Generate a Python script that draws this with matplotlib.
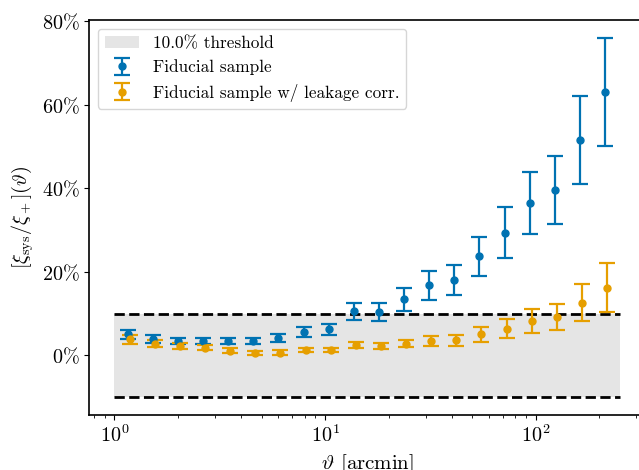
import numpy as np
import matplotlib
matplotlib.use('Agg')
import matplotlib.pyplot as plt
from matplotlib.ticker import FuncFormatter

plt.rcParams['font.family'] = ['cmr10', 'DejaVu Serif']
plt.rcParams['mathtext.fontset'] = 'cm'
plt.rcParams['axes.formatter.use_mathtext'] = True

# angular bins [arcmin]
theta = [1.157, 1.520, 1.999, 2.627, 3.453, 4.539, 5.994, 7.906, 10.39, 13.66,
         18.01, 23.67, 31.12, 40.92, 53.78, 71.01, 93.34, 122.7, 161.8, 212.7]
theta_corr = [1.186, 1.558, 2.049, 2.693, 3.539, 4.652, 6.144, 8.104, 10.65, 14.00,
              18.46, 24.26, 31.90, 41.94, 55.12, 72.79, 95.67, 125.8, 165.8, 218.0]

# xi_sys / xi_+ in percent
ratio = [5.0, 4.0, 3.4, 3.4, 3.4, 3.4, 4.2, 5.6, 6.2, 10.5,
         10.4, 13.4, 16.8, 18.0, 23.7, 29.4, 36.5, 39.6, 51.6, 63.1]
ratio_err = [1.1, 0.95, 0.65, 0.65, 0.7, 0.7, 0.95, 1.2, 1.3, 2.1,
             2.1, 2.75, 3.5, 3.65, 4.6, 6.0, 7.4, 8.05, 10.5, 12.9]
ratio_corr = [3.8, 2.8, 2.2, 1.85, 1.05, 0.55, 0.65, 1.2, 1.3, 2.4,
              2.2, 2.8, 3.45, 3.6, 5.0, 6.4, 8.2, 9.2, 12.6, 16.2]
ratio_corr_err = [1.1, 0.8, 0.65, 0.65, 0.6, 0.55, 0.5, 0.5, 0.5, 0.7,
                  0.7, 0.9, 1.2, 1.3, 1.7, 2.2, 2.8, 3.15, 4.45, 5.95]

threshold = 10.0
theta_min, theta_max = 1.0, 250.0

fig = plt.figure(figsize=(6.39, 4.70), dpi=100)
ax = fig.add_axes([89 / 639, 55 / 470, 556 / 639, 395 / 470])

ax.fill_between([theta_min, theta_max], -threshold, threshold, color='gray', alpha=0.2,
                lw=0, label=f'{threshold:.1f}% threshold')
ax.plot([theta_min, theta_max], [threshold, threshold], 'k--', lw=2)
ax.plot([theta_min, theta_max], [-threshold, -threshold], 'k--', lw=2)

ax.errorbar(theta, ratio, yerr=ratio_err, fmt='o', color='#0072B2', ms=5,
            capsize=5.5, elinewidth=1.6, capthick=1.6, label='Fiducial sample')
ax.errorbar(theta_corr, ratio_corr, yerr=ratio_corr_err, fmt='o', color='#E69F00', ms=5,
            capsize=5.5, elinewidth=1.6, capthick=1.6,
            label='Fiducial sample w/ leakage corr.')

ax.set_xscale('log')
ax.yaxis.set_major_formatter(FuncFormatter(lambda v, pos: r'$%d\%%$' % v))
ax.tick_params(labelsize=14.5)
ax.set_xlabel(r'$\vartheta$ [arcmin]', fontsize=15, labelpad=4)
ax.set_ylabel(r'$[\xi_{\rm sys}/\xi_+](\vartheta)$', fontsize=14.5)
for s in ax.spines.values():
    s.set_linewidth(1.2)

ax.legend(loc='upper left', fontsize=12.4)

fig.savefig('out.png', dpi=100)
